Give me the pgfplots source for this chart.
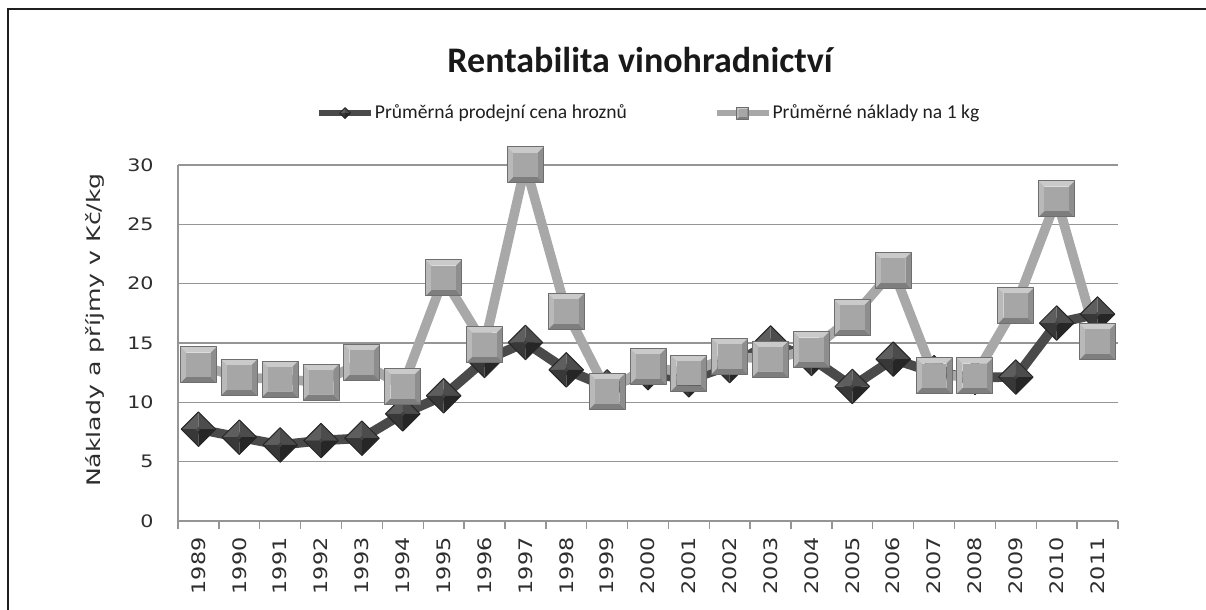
\documentclass[border=0pt]{standalone}
\usepackage{pgfplots}
\pgfplotsset{compat=1.18}
\usepackage{fontspec}
\setmainfont{Carlito}
\newfontfamily\tickfont[FakeStretch=1.2]{DejaVu Sans}
\newfontfamily\ylabfont[FakeStretch=1.35]{DejaVu Sans}

\definecolor{gridgray}{HTML}{959595}
\definecolor{darkline}{HTML}{4A4A4A}
\definecolor{lightline}{HTML}{A8A8A8}
% light square faces
\definecolor{lsqT}{HTML}{CACACA}
\definecolor{lsqL}{HTML}{B9B9B9}
\definecolor{lsqR}{HTML}{8E8E8E}
\definecolor{lsqB}{HTML}{7E7E7E}
\definecolor{lsqC}{HTML}{A6A6A6}
\definecolor{lsqE}{HTML}{6E6E6E}
% dark diamond faces
\definecolor{dsqT}{HTML}{5E5E5E}
\definecolor{dsqL}{HTML}{383838}
\definecolor{dsqR}{HTML}{4C4C4C}
\definecolor{dsqB}{HTML}{262626}
\definecolor{dsqC}{HTML}{424242}
\definecolor{dsqE}{HTML}{262626}

\newcommand\bevmark[7]{%
  \pgfpathmoveto{\pgfqpoint{-\pgfplotmarksize}{\pgfplotmarksize}}%
  \pgfpathlineto{\pgfqpoint{\pgfplotmarksize}{\pgfplotmarksize}}%
  \pgfpathlineto{\pgfqpoint{#1\pgfplotmarksize}{#1\pgfplotmarksize}}%
  \pgfpathlineto{\pgfqpoint{-#1\pgfplotmarksize}{#1\pgfplotmarksize}}%
  \pgfpathclose\pgfsetfillcolor{#2}\pgfusepath{fill}%
  \pgfpathmoveto{\pgfqpoint{-\pgfplotmarksize}{\pgfplotmarksize}}%
  \pgfpathlineto{\pgfqpoint{-#1\pgfplotmarksize}{#1\pgfplotmarksize}}%
  \pgfpathlineto{\pgfqpoint{-#1\pgfplotmarksize}{-#1\pgfplotmarksize}}%
  \pgfpathlineto{\pgfqpoint{-\pgfplotmarksize}{-\pgfplotmarksize}}%
  \pgfpathclose\pgfsetfillcolor{#3}\pgfusepath{fill}%
  \pgfpathmoveto{\pgfqpoint{\pgfplotmarksize}{\pgfplotmarksize}}%
  \pgfpathlineto{\pgfqpoint{#1\pgfplotmarksize}{#1\pgfplotmarksize}}%
  \pgfpathlineto{\pgfqpoint{#1\pgfplotmarksize}{-#1\pgfplotmarksize}}%
  \pgfpathlineto{\pgfqpoint{\pgfplotmarksize}{-\pgfplotmarksize}}%
  \pgfpathclose\pgfsetfillcolor{#4}\pgfusepath{fill}%
  \pgfpathmoveto{\pgfqpoint{-\pgfplotmarksize}{-\pgfplotmarksize}}%
  \pgfpathlineto{\pgfqpoint{\pgfplotmarksize}{-\pgfplotmarksize}}%
  \pgfpathlineto{\pgfqpoint{#1\pgfplotmarksize}{-#1\pgfplotmarksize}}%
  \pgfpathlineto{\pgfqpoint{-#1\pgfplotmarksize}{-#1\pgfplotmarksize}}%
  \pgfpathclose\pgfsetfillcolor{#5}\pgfusepath{fill}%
  \pgfpathrectanglecorners{\pgfqpoint{-#1\pgfplotmarksize}{-#1\pgfplotmarksize}}{\pgfqpoint{#1\pgfplotmarksize}{#1\pgfplotmarksize}}%
  \pgfsetfillcolor{#6}\pgfusepath{fill}%
  \pgfpathrectanglecorners{\pgfqpoint{-\pgfplotmarksize}{-\pgfplotmarksize}}{\pgfqpoint{\pgfplotmarksize}{\pgfplotmarksize}}%
  \pgfsetstrokecolor{#7}\pgfsetlinewidth{0.5pt}\pgfusepath{stroke}%
}
\pgfdeclareplotmark{lsq}{\bevmark{0.68}{lsqT}{lsqL}{lsqR}{lsqB}{lsqC}{lsqE}}
\pgfdeclareplotmark{dsq}{\bevmark{0.12}{dsqT}{dsqL}{dsqR}{dsqB}{dsqC}{dsqE}}

\begin{document}
\begin{tikzpicture}
\path[use as bounding box] (0,0) rectangle (603pt,305pt);
\draw[line width=1.25pt, color=black!88] (4pt,0pt) -- (4pt,300.5pt) -- (603pt,300.5pt);
\begin{axis}[
  at={(89pt,44.5pt)}, anchor=south west,
  scale only axis, width=470pt, height=178pt,
  xmin=-0.5, xmax=22.5, ymin=0, ymax=30,
  clip=false,
  /pgf/number format/assume math mode=true,
  axis x line*=bottom, axis y line*=left,
  axis line style={draw=gridgray, line width=0.75pt, -},
  ytick={0,5,...,30},
  ymajorgrids, grid style={gridgray, line width=0.7pt},
  ytick style={draw=none},
  xtick={0,...,22},
  xticklabels={1989,1990,1991,1992,1993,1994,1995,1996,1997,1998,1999,2000,2001,2002,2003,2004,2005,2006,2007,2008,2009,2010,2011},
  xtick style={draw=none},
  major tick length=0pt,
  extra x ticks={-0.5,0.5,...,22.5},
  extra x tick labels={},
  extra x tick style={grid=none, major tick length=4pt, tick align=outside, xtick style={draw=gridgray, line width=0.7pt}},
  xticklabel style={rotate=90, anchor=east, inner sep=0pt, font=\tickfont\fontsize{9.3}{10}\selectfont, text=black!82},
  xticklabel shift=8pt,
  yticklabel style={inner sep=0pt, font=\tickfont\fontsize{8.6}{10}\selectfont, text=black!82},
  yticklabel shift=12pt,
  legend style={at={(0.5005,1.146)}, anchor=center, draw=none, fill=none,
    font=\fontsize{9.8}{11}\selectfont, text=black!88,
    nodes={inner sep=0.6pt},
    /tikz/every even column/.append style={column sep=43pt}},
  legend columns=2,
]
\addplot[color=darkline, line width=4.8pt, line join=round, mark=dsq, mark size=6.1pt,
  mark options={rotate=45},
  legend image code/.code={%
    \draw[darkline, line width=2.6pt] (0pt,0pt) -- (26pt,0pt);
    \draw[mark=dsq, mark size=1.9pt, mark options={rotate=45}] plot coordinates {(13pt,0pt)};}]
coordinates {
(0,7.74) (1,7.06) (2,6.41) (3,6.78) (4,6.98) (5,9.03) (6,10.55) (7,13.53)
(8,15.05) (9,12.74) (10,11.3) (11,12.5) (12,11.9) (13,13.1) (14,15.0)
(15,13.7) (16,11.34) (17,13.64) (18,12.5) (19,12.1) (20,12.13) (21,16.68) (22,17.44)
};
\addlegendentry{Průměrná prodejní cena hroznů}
\addplot[color=lightline, line width=4.8pt, line join=round, mark=lsq, mark size=9pt,
  legend image code/.code={%
    \draw[lightline, line width=2.6pt] (0pt,0pt) -- (26pt,0pt);
    \draw[mark=lsq, mark size=3pt] plot coordinates {(13pt,0pt)};}]
coordinates {
(0,13.16) (1,12.1) (2,11.96) (3,11.7) (4,13.36) (5,11.34) (6,20.48) (7,14.85)
(8,30.0) (9,17.66) (10,10.91) (11,13.02) (12,12.46) (13,13.87) (14,13.64)
(15,14.43) (16,17.16) (17,21.12) (18,12.24) (19,12.24) (20,18.14) (21,27.15) (22,15.13)
};
\addlegendentry{Průměrné náklady na 1 kg}
\end{axis}
\node[font=\bfseries\fontsize{18}{20}\selectfont, text=black!90] at (320pt,275pt) {Rentabilita vinohradnictví};
\node[rotate=90, font=\ylabfont\fontsize{9.33}{11}\selectfont, text=black!82] at (47.5pt,140pt) {Náklady a příjmy v Kč/kg};
\end{tikzpicture}
\end{document}
